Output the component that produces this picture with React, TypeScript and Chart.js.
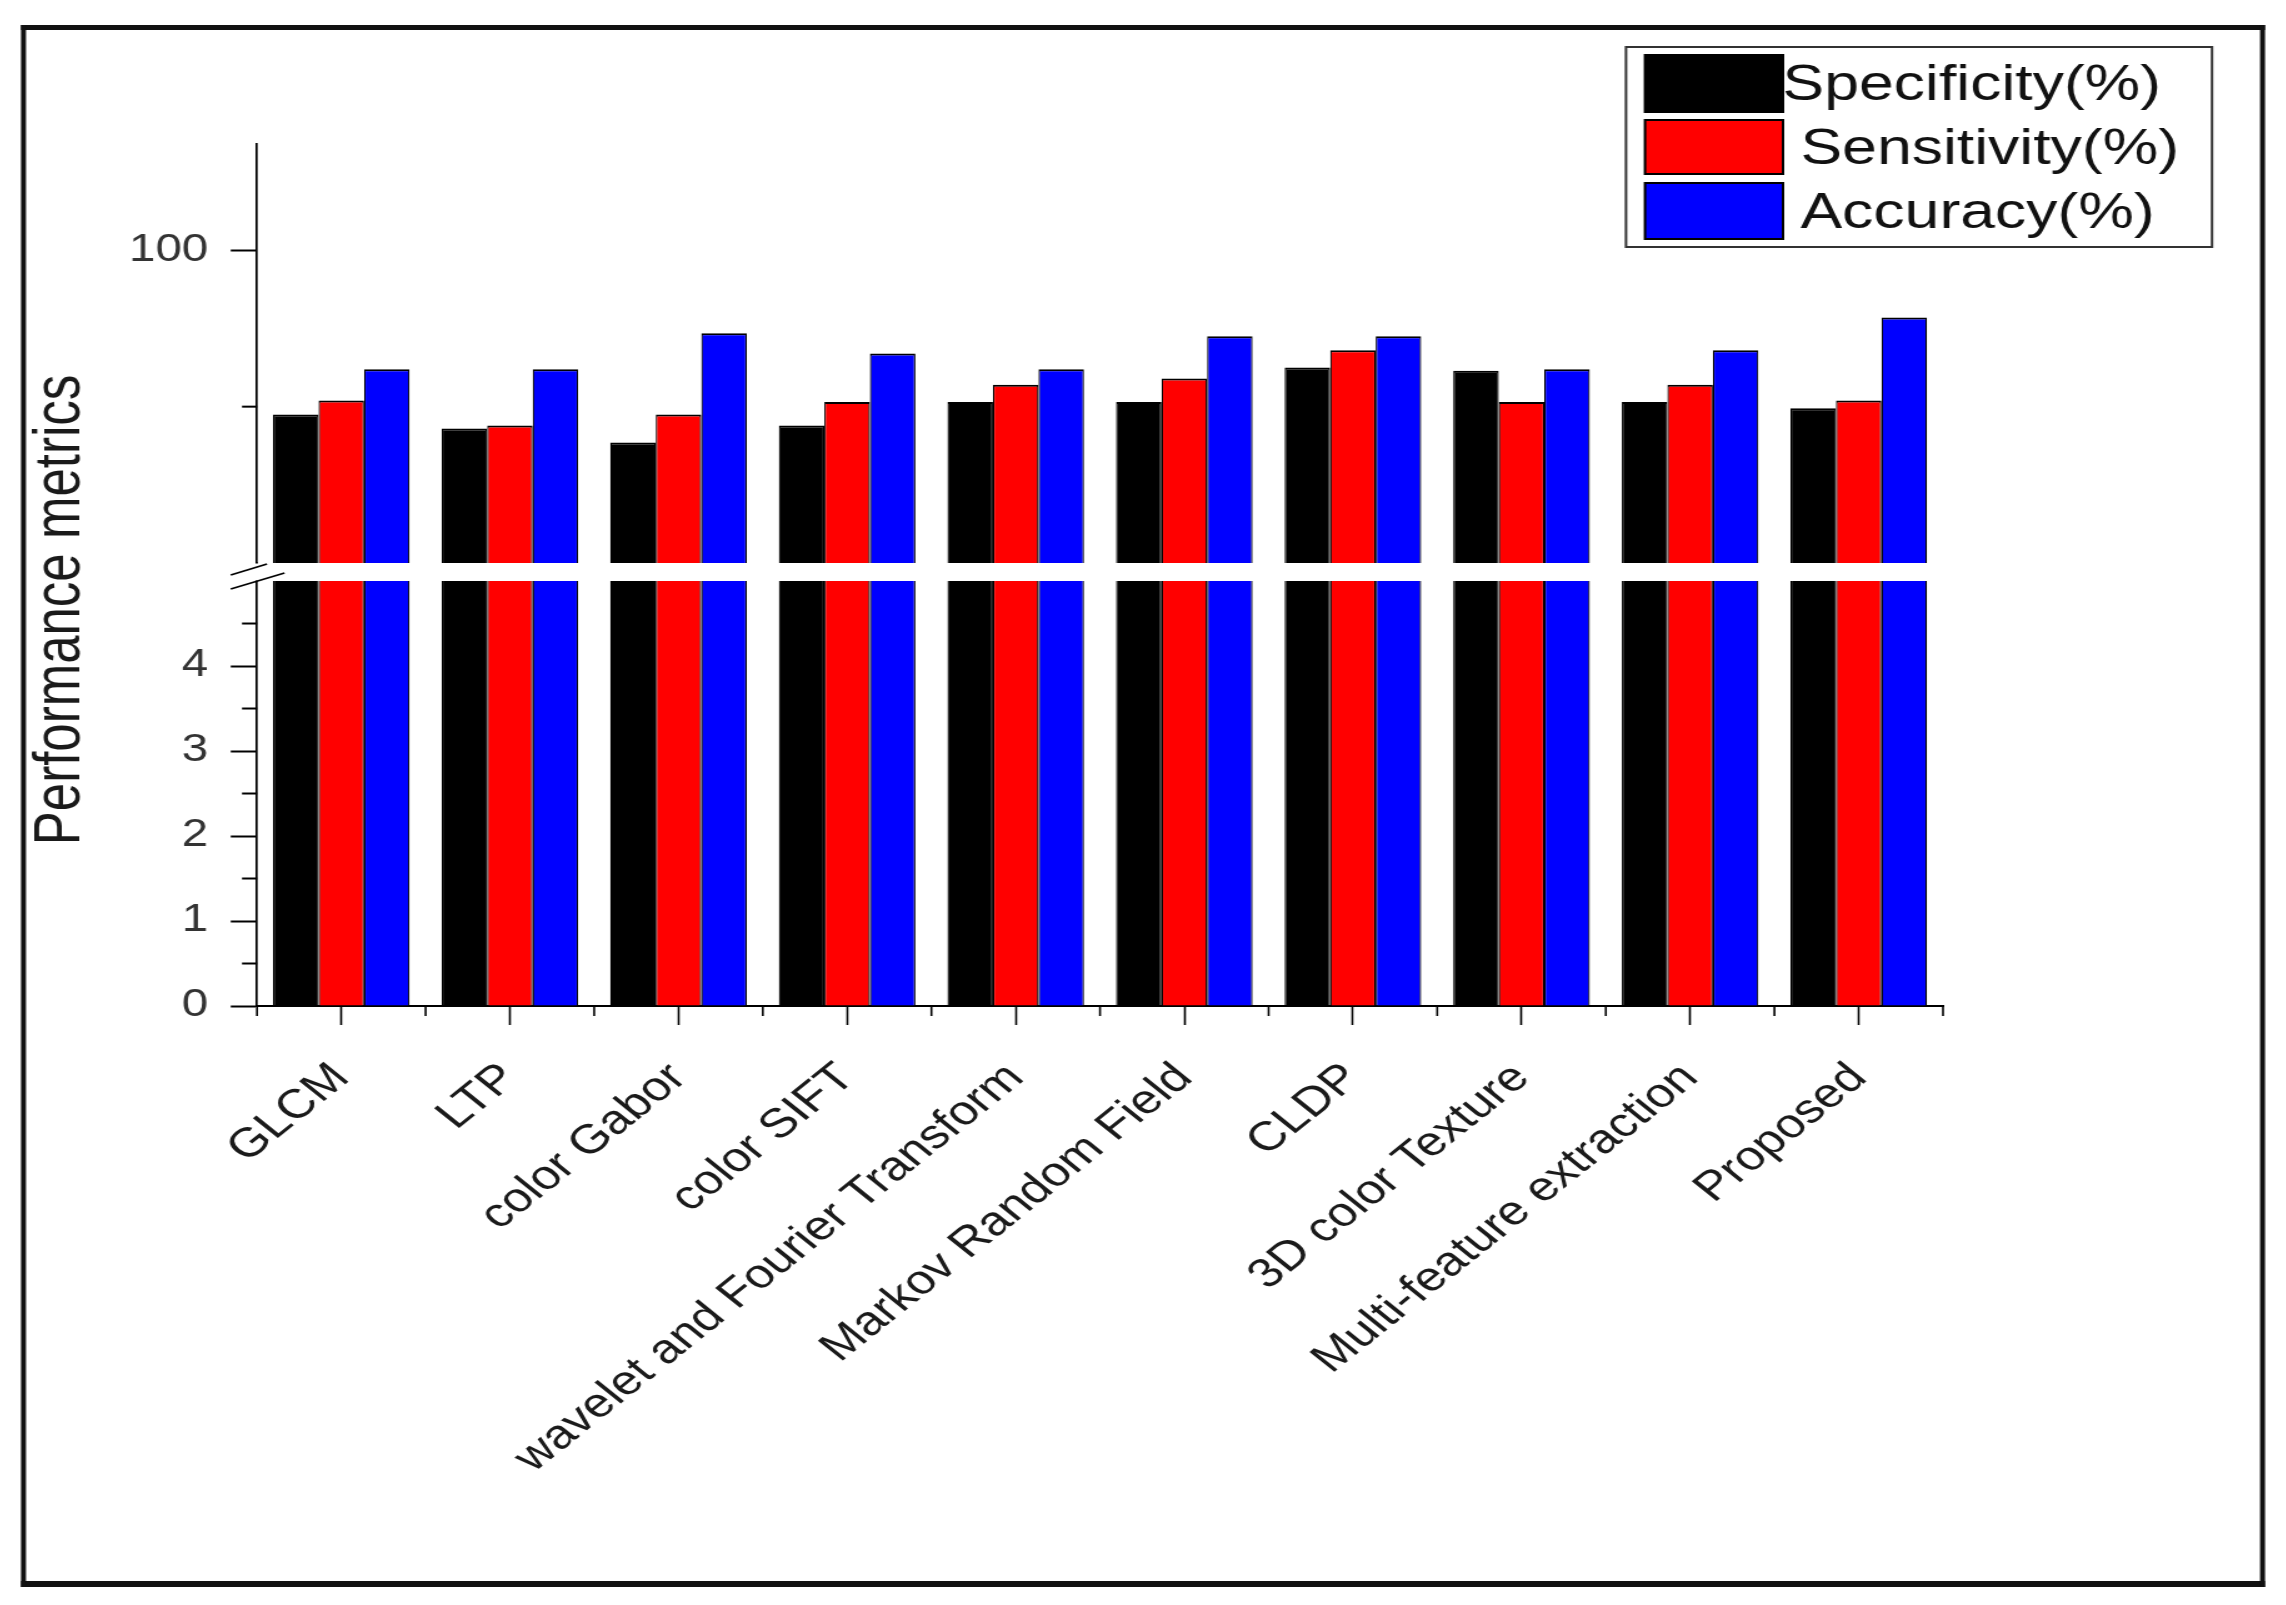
import React, { useEffect, useRef } from 'react';
import { Chart, registerables } from 'chart.js';

Chart.register(...registerables);

// ---------------- data ----------------
const categories = [
  'GLCM',
  'LTP',
  'color Gabor',
  'color SIFT',
  'wavelet and Fourier Transform',
  'Markov Random Field',
  'CLDP',
  '3D color Texture',
  'Multi-feature extraction',
  'Proposed',
];
const specificity = [94.75, 94.3, 93.85, 94.4, 95.15, 95.15, 96.25, 96.15, 95.15, 94.95];
const sensitivity = [95.2, 94.4, 94.75, 95.15, 95.7, 95.9, 96.8, 95.15, 95.7, 95.2];
const accuracy = [96.2, 96.2, 97.35, 96.7, 96.2, 97.25, 97.25, 96.2, 96.8, 97.85];
const seriesLabels = ['Specificity(%)', 'Sensitivity(%)', 'Accuracy(%)'];
const seriesColors = ['#000000', '#ff0000', '#0000ff'];
const upperTicks = [100];
const upperMinorTicks = [95];
const lowerTicks = [0, 1, 2, 3, 4];
const lowerMinorTicks = [0.5, 1.5, 2.5, 3.5, 4.5];
const yTitle = 'Performance metrics';

// axis segments
const UPPER_MIN = 90;
const UPPER_MAX = 103.4;
const LOWER_MIN = 0;
const LOWER_TOP = 5;
const LOWER_MAX = 5.212; // includes the break gap

// ---------------- layout ----------------
const SX = 1.25; // horizontal stretch of the figure
const W = 1816;
const H = 1588;
const FONT = "'Liberation Sans', Arial, Helvetica, sans-serif";

const brokenAxisPlugin = {
  id: 'brokenAxis',
  beforeDraw(chart: any) {
    const ctx = chart.ctx;
    ctx.save();
    ctx.fillStyle = '#ffffff';
    ctx.fillRect(0, 0, chart.width, chart.height);
    ctx.restore();
  },
  beforeDatasetDraw(chart: any, args: any) {
    const meta = args.meta;
    const ctx = chart.ctx;
    const ca = chart.chartArea;
    const scale = chart.scales[meta.yAxisID];
    let top: number;
    let bottom: number;
    if (meta.yAxisID === 'yHigh') {
      top = scale.top - 6;
      bottom = scale.bottom;
    } else {
      top = scale.getPixelForValue(LOWER_TOP);
      bottom = scale.bottom + 4;
    }
    ctx.save();
    ctx.beginPath();
    ctx.rect(ca.left - 4, top, ca.right - ca.left + 8, bottom - top);
    ctx.clip();
  },
  afterDatasetDraw(chart: any) {
    chart.ctx.restore();
  },
  afterDraw(chart: any) {
    const ctx = chart.ctx;
    const ca = chart.chartArea;
    const yHigh = chart.scales.yHigh;
    const yLow = chart.scales.yLow;
    const xs = chart.scales.x;

    ctx.save();
    // minor y ticks
    ctx.strokeStyle = '#000';
    ctx.lineWidth = 2;
    const minor = (scale: any, vals: number[]) => {
      vals.forEach((v) => {
        const y = scale.getPixelForValue(v);
        ctx.beginPath();
        ctx.moveTo(ca.left - 12, y);
        ctx.lineTo(ca.left, y);
        ctx.stroke();
      });
    };
    minor(yHigh, upperMinorTicks);
    minor(yLow, lowerMinorTicks);

    // minor x ticks at category boundaries
    ctx.lineWidth = 1.6;
    for (let i = 0; i <= categories.length; i++) {
      const x = xs.getPixelForValue(i - 0.5);
      ctx.beginPath();
      ctx.moveTo(x, ca.bottom);
      ctx.lineTo(x, ca.bottom + 10);
      ctx.stroke();
    }

    // break gap
    const gTop = yHigh.bottom;
    const gBot = yLow.getPixelForValue(LOWER_TOP);
    ctx.fillStyle = '#ffffff';
    ctx.fillRect(ca.left - 3, gTop + 0.5, 6, gBot - gTop - 1);
    ctx.strokeStyle = '#000';
    ctx.lineWidth = 1.8;
    ctx.beginPath();
    ctx.moveTo(ca.left - 21, gTop + 12);
    ctx.lineTo(ca.left + 8, gTop + 1);
    ctx.stroke();
    ctx.beginPath();
    ctx.moveTo(ca.left - 21, gBot + 8);
    ctx.lineTo(ca.left + 22, gBot - 8);
    ctx.stroke();

    // y title
    ctx.save();
    ctx.translate(43, 602);
    ctx.rotate(-Math.PI / 2);
    ctx.fillStyle = '#1a1a1a';
    ctx.font = `51px ${FONT}`;
    ctx.textAlign = 'center';
    ctx.textBaseline = 'middle';
    ctx.fillText(yTitle, 0, 0);
    ctx.restore();

    // legend
    const lx0 = 1294.4;
    const ly0 = 39;
    const lx1 = 1763.2;
    const ly1 = 239;
    ctx.strokeStyle = '#333';
    ctx.lineWidth = 2;
    ctx.strokeRect(lx0, ly0, lx1 - lx0, ly1 - ly0);
    const rows = [
      [47, 104, 1419.6],
      [112, 166, 1434],
      [175, 231, 1434],
    ];
    ctx.font = `50px ${FONT}`;
    ctx.textAlign = 'left';
    ctx.textBaseline = 'middle';
    rows.forEach((r, i) => {
      const ds = chart.data.datasets[i];
      ctx.fillStyle = ds.backgroundColor;
      ctx.fillRect(1309.6, r[0], 1420 - 1309.6, r[1] - r[0]);
      ctx.strokeStyle = '#000';
      ctx.lineWidth = 2;
      ctx.strokeRect(1309.6, r[0], 1420 - 1309.6, r[1] - r[0]);
      ctx.fillStyle = '#111';
      ctx.fillText(ds.label, r[2], (r[0] + r[1]) / 2 + 3);
    });

    // outer frame
    ctx.fillStyle = '#111';
    ctx.fillRect(10.4, 17, 1805.6 - 10.4, 5); // top
    ctx.fillRect(10.4, 1573, 1805.6 - 10.4, 6); // bottom
    ctx.fillRect(10.4, 17, 4, 1579 - 17); // left
    ctx.fillRect(1801.6, 17, 4, 1579 - 17); // right
    ctx.restore();
  },
};

export default function App() {
  const ref = useRef<HTMLCanvasElement>(null);

  useEffect(() => {
    const canvas = ref.current;
    if (!canvas) return;
    const series = [specificity, sensitivity, accuracy];
    const mk = (axis: string, i: number) => ({
      label: seriesLabels[i],
      data: series[i],
      yAxisID: axis,
      stack: 's' + i,
      backgroundColor: seriesColors[i],
      borderColor: '#000000',
      borderWidth: { top: 2, left: 1.2, right: 1.2, bottom: 0 },
      borderSkipped: 'start',
      categoryPercentage: 0.81,
      barPercentage: 1.0,
    });
    const datasets = [
      mk('yHigh', 0),
      mk('yHigh', 1),
      mk('yHigh', 2),
      mk('yLow', 0),
      mk('yLow', 1),
      mk('yLow', 2),
    ];

    const yTickFont = { family: FONT, size: 38 };
    const chart = new Chart(canvas, {
      type: 'bar',
      data: { labels: categories, datasets: datasets as any },
      options: {
        responsive: false,
        animation: false,
        events: [],
        layout: { padding: { left: 0, top: 136, right: W - 1548, bottom: 0 } },
        plugins: {
          legend: { display: false },
          tooltip: { enabled: false },
          title: { display: false },
        },
        scales: {
          x: {
            type: 'category',
            offset: true,
            grid: {
              display: true,
              drawOnChartArea: false,
              drawTicks: true,
              offset: false,
              tickLength: 19,
              tickWidth: 1.6,
              tickColor: '#000',
            },
            border: { display: true, color: '#000', width: 2 },
            ticks: {
              autoSkip: false,
              minRotation: 45,
              maxRotation: 45,
              padding: 29,
              color: '#1a1a1a',
              font: { family: FONT, size: 41 },
            },
            afterFit(scale: any) {
              scale.height = H - 998;
            },
          },
          yHigh: {
            type: 'linear',
            position: 'left',
            stack: 'y',
            stackWeight: 419,
            weight: 1,
            stacked: false,
            min: UPPER_MIN,
            max: UPPER_MAX,
            offset: false,
            grid: {
              display: true,
              drawOnChartArea: false,
              drawTicks: true,
              tickLength: 21,
              tickWidth: 2,
              tickColor: '#000',
            },
            border: { display: true, color: '#000', width: 1.7 },
            ticks: { color: '#333', font: yTickFont, padding: 18 },
            afterBuildTicks(scale: any) {
              scale.ticks = upperTicks.map((v) => ({ value: v }));
            },
            afterFit(scale: any) {
              scale.width = 199.2;
            },
          },
          yLow: {
            type: 'linear',
            position: 'left',
            stack: 'y',
            stackWeight: 443,
            weight: 0,
            stacked: false,
            min: LOWER_MIN,
            max: LOWER_MAX,
            offset: false,
            grid: {
              display: true,
              drawOnChartArea: false,
              drawTicks: true,
              tickLength: 21,
              tickWidth: 2,
              tickColor: '#000',
            },
            border: { display: true, color: '#000', width: 1.7 },
            ticks: { color: '#333', font: yTickFont, padding: 18 },
            afterBuildTicks(scale: any) {
              scale.ticks = lowerTicks.map((v) => ({ value: v }));
            },
            afterFit(scale: any) {
              scale.width = 199.2;
            },
          },
        } as any,
      },
      plugins: [brokenAxisPlugin as any],
    });
    return () => chart.destroy();
  }, []);

  return (
    <div style={{ width: W * SX, height: H, position: 'relative', overflow: 'hidden' }}>
      <div style={{ width: W, height: H, transform: `scaleX(${SX})`, transformOrigin: '0 0' }}>
        <canvas
          ref={ref}
          width={W}
          height={H}
          style={{ display: 'block', width: W + 'px', height: H + 'px' }}
        />
      </div>
    </div>
  );
}
